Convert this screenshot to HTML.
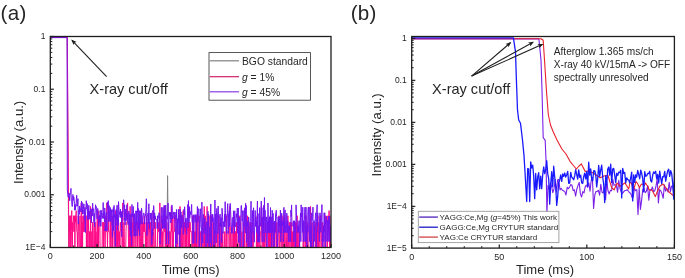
<!DOCTYPE html>
<html><head><meta charset="utf-8"><style>html,body{margin:0;padding:0;background:#fff;width:685px;height:278px;overflow:hidden;position:relative}</style></head>
<body>
<svg width="685" height="278" viewBox="0 0 685 278" style="position:absolute;left:0;top:0;filter:blur(0.35px)">
<defs><clipPath id="cl"><rect x="50.30" y="36.50" width="280.70" height="211.00"/></clipPath>
<clipPath id="cr"><rect x="411.70" y="36.50" width="262.70" height="211.60"/></clipPath></defs>
<polyline points="50.30,37.20 67.20,37.20 68.70,252.50" fill="none" stroke="#808080" stroke-width="1.0" stroke-linejoin="round" clip-path="url(#cl)" opacity="1"/>
<polyline points="167.20,215.00 167.60,175.60 168.00,215.00" fill="none" stroke="#808080" stroke-width="1.0" stroke-linejoin="round" clip-path="url(#cl)" opacity="1"/>
<polyline points="50.30,37.40 67.30,37.40 68.90,247.60 69.60,222.00 69.48,231.62 69.80,215.74 70.12,247.50 70.44,215.74 70.76,247.50 71.08,247.50 71.40,231.62 71.72,210.63 72.04,231.62 72.35,247.50 72.67,222.33 72.99,231.62 73.31,222.33 73.63,215.74 73.95,222.33 74.27,231.62 74.59,215.74 74.91,253.50 75.23,215.74 75.55,222.33 75.87,215.74 76.19,210.63 76.51,222.33 76.82,231.62 77.14,231.62 77.46,247.50 77.78,231.62 78.10,215.74 78.42,215.74 78.74,231.62 79.06,247.50 79.38,222.33 79.70,222.33 80.02,215.74 80.34,247.50 80.66,247.50 80.98,231.62 81.30,202.92 81.61,253.50 81.93,231.62 82.25,222.33 82.57,247.50 82.89,215.74 83.21,231.62 83.53,231.62 83.85,215.74 84.17,231.62 84.49,215.74 84.81,231.62 85.13,215.74 85.45,231.62 85.77,231.62 86.08,215.74 86.40,247.50 86.72,231.62 87.04,247.50 87.36,215.74 87.68,222.33 88.00,247.50 88.32,210.63 88.64,231.62 88.96,231.62 89.28,247.50 89.60,231.62 89.92,253.50 90.24,247.50 90.55,206.45 90.87,247.50 91.19,247.50 91.51,253.50 91.83,231.62 92.15,247.50 92.47,222.33 92.79,231.62 93.11,247.50 93.43,253.50 93.75,247.50 94.07,222.33 94.39,247.50 94.71,253.50 95.02,222.33 95.34,222.33 95.66,253.50 95.98,231.62 96.30,247.50 96.62,253.50 96.94,231.62 97.26,210.63 97.58,253.50 97.90,253.50 98.22,210.63 98.54,247.50 98.86,222.33 99.18,215.74 99.50,222.33 99.81,215.74 100.13,253.50 100.45,247.50 100.77,247.50 101.09,247.50 101.41,247.50 101.73,253.50 102.05,253.50 102.37,222.33 102.69,222.33 103.01,222.33 103.33,247.50 103.65,222.33 103.97,231.62 104.28,222.33 104.60,231.62 104.92,247.50 105.24,247.50 105.56,215.74 105.88,222.33 106.20,231.62 106.52,231.62 106.84,202.92 107.16,231.62 107.48,247.50 107.80,231.62 108.12,231.62 108.44,231.62 108.75,215.74 109.07,231.62 109.39,231.62 109.71,231.62 110.03,253.50 110.35,253.50 110.67,215.74 110.99,222.33 111.31,231.62 111.63,231.62 111.95,247.50 112.27,215.74 112.59,247.50 112.91,247.50 113.22,231.62 113.54,210.63 113.86,231.62 114.18,231.62 114.50,231.62 114.82,247.50 115.14,247.50 115.46,210.63 115.78,222.33 116.10,215.74 116.42,222.33 116.74,247.50 117.06,231.62 117.38,247.50 117.69,222.33 118.01,215.74 118.33,222.33 118.65,247.50 118.97,253.50 119.29,247.50 119.61,231.62 119.93,247.50 120.25,222.33 120.57,222.33 120.89,231.62 121.21,231.62 121.53,231.62 121.85,222.33 122.17,253.50 122.48,215.74 122.80,202.92 123.12,247.50 123.44,253.50 123.76,231.62 124.08,222.33 124.40,247.50 124.72,253.50 125.04,253.50 125.36,253.50 125.68,253.50 126.00,231.62 126.32,222.33 126.64,222.33 126.95,222.33 127.27,222.33 127.59,202.92 127.91,222.33 128.23,222.33 128.55,247.50 128.87,247.50 129.19,222.33 129.51,247.50 129.83,231.62 130.15,206.45 130.47,253.50 130.79,222.33 131.11,231.62 131.42,247.50 131.74,231.62 132.06,222.33 132.38,231.62 132.70,253.50 133.02,215.74 133.34,231.62 133.66,215.74 133.98,247.50 134.30,231.62 134.62,231.62 134.94,222.33 135.26,222.33 135.58,231.62 135.89,247.50 136.21,231.62 136.53,215.74 136.85,222.33 137.17,222.33 137.49,247.50 137.81,222.33 138.13,231.62 138.45,222.33 138.77,231.62 139.09,253.50 139.41,253.50 139.73,231.62 140.05,222.33 140.36,247.50 140.68,247.50 141.00,210.63 141.32,231.62 141.64,253.50 141.96,231.62 142.28,222.33 142.60,253.50 142.92,247.50 143.24,222.33 143.56,231.62 143.88,231.62 144.20,215.74 144.52,231.62 144.84,222.33 145.15,231.62 145.47,247.50 145.79,231.62 146.11,253.50 146.43,215.74 146.75,253.50 147.07,222.33 147.39,231.62 147.71,231.62 148.03,247.50 148.35,231.62 148.67,222.33 148.99,231.62 149.31,222.33 149.62,222.33 149.94,253.50 150.26,222.33 150.58,222.33 150.90,247.50 151.22,253.50 151.54,231.62 151.86,253.50 152.18,231.62 152.50,247.50 152.82,231.62 153.14,210.63 153.46,231.62 153.78,247.50 154.09,253.50 154.41,253.50 154.73,247.50 155.05,222.33 155.37,222.33 155.69,247.50 156.01,247.50 156.33,247.50 156.65,247.50 156.97,247.50 157.29,247.50 157.61,231.62 157.93,222.33 158.25,231.62 158.56,222.33 158.88,231.62 159.20,222.33 159.52,253.50 159.84,202.92 160.16,231.62 160.48,231.62 160.80,253.50 161.12,247.50 161.44,231.62 161.76,215.74 162.08,247.50 162.40,231.62 162.72,247.50 163.03,247.50 163.35,231.62 163.67,231.62 163.99,222.33 164.31,206.45 164.63,231.62 164.95,222.33 165.27,253.50 165.59,222.33 165.91,215.74 166.23,247.50 166.55,231.62 166.87,231.62 167.19,247.50 167.51,231.62 167.82,231.62 168.14,222.33 168.46,247.50 168.78,231.62 169.10,247.50 169.42,231.62 169.74,231.62 170.06,231.62 170.38,231.62 170.70,247.50 171.02,231.62 171.34,206.45 171.66,231.62 171.98,215.74 172.29,247.50 172.61,253.50 172.93,215.74 173.25,247.50 173.57,231.62 173.89,231.62 174.21,231.62 174.53,231.62 174.85,215.74 175.17,222.33 175.49,215.74 175.81,215.74 176.13,222.33 176.45,247.50 176.76,247.50 177.08,222.33 177.40,253.50 177.72,253.50 178.04,253.50 178.36,247.50 178.68,247.50 179.00,247.50 179.32,231.62 179.64,247.50 179.96,206.45 180.28,247.50 180.60,231.62 180.92,231.62 181.23,253.50 181.55,247.50 181.87,215.74 182.19,247.50 182.51,253.50 182.83,215.74 183.15,210.63 183.47,222.33 183.79,247.50 184.11,247.50 184.43,222.33 184.75,231.62 185.07,222.33 185.39,247.50 185.71,222.33 186.02,222.33 186.34,247.50 186.66,231.62 186.98,253.50 187.30,231.62 187.62,222.33 187.94,231.62 188.26,222.33 188.58,253.50 188.90,253.50 189.22,222.33 189.54,253.50 189.86,222.33 190.18,222.33 190.49,231.62 190.81,231.62 191.13,231.62 191.45,231.62 191.77,231.62 192.09,253.50 192.41,215.74 192.73,253.50 193.05,247.50 193.37,215.74 193.69,231.62 194.01,253.50 194.33,253.50 194.65,231.62 194.96,253.50 195.28,231.62 195.60,247.50 195.92,222.33 196.24,215.74 196.56,253.50 196.88,247.50 197.20,222.33 197.52,210.63 197.84,247.50 198.16,253.50 198.48,253.50 198.80,231.62 199.12,215.74 199.43,247.50 199.75,247.50 200.07,247.50 200.39,231.62 200.71,231.62 201.03,247.50 201.35,253.50 201.67,253.50 201.99,247.50 202.31,247.50 202.63,247.50 202.95,222.33 203.27,253.50 203.59,253.50 203.90,247.50 204.22,206.45 204.54,247.50 204.86,253.50 205.18,215.74 205.50,222.33 205.82,247.50 206.14,253.50 206.46,247.50 206.78,253.50 207.10,206.45 207.42,247.50 207.74,247.50 208.06,222.33 208.38,247.50 208.69,247.50 209.01,231.62 209.33,247.50 209.65,253.50 209.97,215.74 210.29,231.62 210.61,253.50 210.93,253.50 211.25,215.74 211.57,253.50 211.89,247.50 212.21,247.50 212.53,253.50 212.85,222.33 213.16,247.50 213.48,253.50 213.80,247.50 214.12,231.62 214.44,247.50 214.76,231.62 215.08,247.50 215.40,231.62 215.72,247.50 216.04,247.50 216.36,247.50 216.68,253.50 217.00,247.50 217.32,231.62 217.63,231.62 217.95,253.50 218.27,231.62 218.59,222.33 218.91,215.74 219.23,247.50 219.55,247.50 219.87,222.33 220.19,231.62 220.51,247.50 220.83,247.50 221.15,222.33 221.47,231.62 221.79,247.50 222.10,231.62 222.42,247.50 222.74,231.62 223.06,247.50 223.38,247.50 223.70,247.50 224.02,247.50 224.34,247.50 224.66,231.62 224.98,231.62 225.30,253.50 225.62,253.50 225.94,253.50 226.26,215.74 226.57,231.62 226.89,253.50 227.21,231.62 227.53,231.62 227.85,231.62 228.17,231.62 228.49,231.62 228.81,231.62 229.13,253.50 229.45,222.33 229.77,206.45 230.09,222.33 230.41,231.62 230.73,253.50 231.05,253.50 231.36,253.50 231.68,247.50 232.00,231.62 232.32,253.50 232.64,247.50 232.96,253.50 233.28,231.62 233.60,247.50 233.92,215.74 234.24,253.50 234.56,231.62 234.88,231.62 235.20,247.50 235.52,231.62 235.83,231.62 236.15,247.50 236.47,222.33 236.79,247.50 237.11,247.50 237.43,253.50 237.75,247.50 238.07,231.62 238.39,231.62 238.71,215.74 239.03,247.50 239.35,247.50 239.67,222.33 239.99,215.74 240.30,231.62 240.62,222.33 240.94,222.33 241.26,253.50 241.58,247.50 241.90,231.62 242.22,253.50 242.54,247.50 242.86,253.50 243.18,247.50 243.50,247.50 243.82,222.33 244.14,253.50 244.46,247.50 244.77,222.33 245.09,247.50 245.41,253.50 245.73,247.50 246.05,253.50 246.37,253.50 246.69,231.62 247.01,222.33 247.33,215.74 247.65,247.50 247.97,253.50 248.29,247.50 248.61,231.62 248.93,222.33 249.24,231.62 249.56,247.50 249.88,231.62 250.20,222.33 250.52,222.33 250.84,231.62 251.16,253.50 251.48,231.62 251.80,231.62 252.12,222.33 252.44,247.50 252.76,247.50 253.08,231.62 253.40,231.62 253.72,247.50 254.03,247.50 254.35,253.50 254.67,247.50 254.99,247.50 255.31,247.50 255.63,253.50 255.95,247.50 256.27,247.50 256.59,231.62 256.91,247.50 257.23,215.74 257.55,253.50 257.87,247.50 258.19,247.50 258.50,253.50 258.82,231.62 259.14,231.62 259.46,253.50 259.78,247.50 260.10,247.50 260.42,231.62 260.74,231.62 261.06,231.62 261.38,206.45 261.70,231.62 262.02,247.50 262.34,247.50 262.66,247.50 262.97,222.33 263.29,231.62 263.61,247.50 263.93,231.62 264.25,253.50 264.57,247.50 264.89,231.62 265.21,222.33 265.53,231.62 265.85,247.50 266.17,247.50 266.49,247.50 266.81,231.62 267.13,222.33 267.44,222.33 267.76,231.62 268.08,222.33 268.40,247.50 268.72,222.33 269.04,253.50 269.36,231.62 269.68,247.50 270.00,253.50 270.32,215.74 270.64,253.50 270.96,222.33 271.28,253.50 271.60,247.50 271.91,247.50 272.23,231.62 272.55,222.33 272.87,247.50 273.19,253.50 273.51,253.50 273.83,222.33 274.15,222.33 274.47,247.50 274.79,231.62 275.11,231.62 275.43,231.62 275.75,222.33 276.07,253.50 276.39,247.50 276.70,222.33 277.02,253.50 277.34,247.50 277.66,247.50 277.98,247.50 278.30,222.33 278.62,231.62 278.94,215.74 279.26,247.50 279.58,253.50 279.90,231.62 280.22,231.62 280.54,231.62 280.86,231.62 281.17,253.50 281.49,231.62 281.81,231.62 282.13,215.74 282.45,247.50 282.77,247.50 283.09,253.50 283.41,231.62 283.73,222.33 284.05,247.50 284.37,231.62 284.69,215.74 285.01,253.50 285.33,247.50 285.64,247.50 285.96,231.62 286.28,231.62 286.60,247.50 286.92,247.50 287.24,247.50 287.56,253.50 287.88,215.74 288.20,253.50 288.52,231.62 288.84,231.62 289.16,231.62 289.48,222.33 289.80,253.50 290.11,253.50 290.43,222.33 290.75,231.62 291.07,231.62 291.39,247.50 291.71,222.33 292.03,247.50 292.35,231.62 292.67,253.50 292.99,253.50 293.31,253.50 293.63,231.62 293.95,253.50 294.27,253.50 294.59,231.62 294.90,222.33 295.22,247.50 295.54,222.33 295.86,253.50 296.18,231.62 296.50,222.33 296.82,247.50 297.14,215.74 297.46,253.50 297.78,231.62 298.10,247.50 298.42,247.50 298.74,247.50 299.06,231.62 299.37,247.50 299.69,247.50 300.01,247.50 300.33,247.50 300.65,247.50 300.97,247.50 301.29,247.50 301.61,247.50 301.93,247.50 302.25,247.50 302.57,247.50 302.89,253.50 303.21,231.62 303.53,247.50 303.84,247.50 304.16,247.50 304.48,253.50 304.80,253.50 305.12,222.33 305.44,247.50 305.76,247.50 306.08,215.74 306.40,247.50 306.72,253.50 307.04,247.50 307.36,247.50 307.68,231.62 308.00,222.33 308.31,253.50 308.63,247.50 308.95,253.50 309.27,247.50 309.59,247.50 309.91,247.50 310.23,253.50 310.55,206.45 310.87,231.62 311.19,231.62 311.51,231.62 311.83,247.50 312.15,222.33 312.47,253.50 312.78,247.50 313.10,253.50 313.42,247.50 313.74,253.50 314.06,253.50 314.38,253.50 314.70,247.50 315.02,253.50 315.34,222.33 315.66,253.50 315.98,253.50 316.30,253.50 316.62,247.50 316.94,231.62 317.26,253.50 317.57,222.33 317.89,215.74 318.21,253.50 318.53,247.50 318.85,222.33 319.17,253.50 319.49,247.50 319.81,253.50 320.13,215.74 320.45,215.74 320.77,222.33 321.09,247.50 321.41,247.50 321.73,247.50 322.04,222.33 322.36,247.50 322.68,222.33 323.00,253.50 323.32,247.50 323.64,247.50 323.96,247.50 324.28,247.50 324.60,253.50 324.92,231.62 325.24,215.74 325.56,247.50 325.88,247.50 326.20,247.50 326.51,253.50 326.83,253.50 327.15,215.74 327.47,247.50 327.79,231.62 328.11,231.62 328.43,215.74 328.75,231.62 329.07,210.63 329.39,231.62 329.71,253.50 330.03,253.50 330.35,231.62 330.67,253.50 330.98,215.74" fill="none" stroke="#ff0a88" stroke-width="1.0" stroke-linejoin="round" clip-path="url(#cl)" opacity="1"/>
<polyline points="50.30,37.60 67.10,37.60 67.30,190.00 68.08,197.14 68.40,197.11 68.72,195.96 69.04,192.87 69.35,195.90 69.67,200.71 69.99,193.75 70.31,193.72 70.63,192.72 70.95,188.35 71.27,199.25 71.59,199.22 71.91,204.95 72.23,206.61 72.55,204.89 72.87,194.50 73.19,200.38 73.51,196.63 73.82,196.60 74.14,198.98 74.46,204.71 74.78,210.21 75.10,204.66 75.42,210.15 75.74,204.60 76.06,206.27 76.38,198.79 76.70,195.23 77.02,200.04 77.34,206.16 77.66,202.85 77.98,198.65 78.30,223.79 78.61,217.17 78.93,209.85 79.25,214.42 79.57,205.96 79.89,209.76 80.21,211.92 80.53,209.71 80.85,207.69 81.17,205.83 81.49,201.05 81.81,211.79 82.13,202.47 82.45,214.15 82.77,209.53 83.08,214.10 83.40,209.48 83.72,203.92 84.04,203.90 84.36,219.75 84.68,209.37 85.00,207.35 85.32,232.50 85.64,211.48 85.96,207.28 86.28,200.66 86.60,203.70 86.92,209.20 87.24,203.65 87.55,219.50 87.87,209.12 88.19,219.45 88.51,211.26 88.83,205.22 89.15,216.32 89.47,211.19 89.79,219.33 90.11,213.55 90.43,208.93 90.75,211.09 91.07,211.07 91.39,222.75 91.71,208.84 92.02,208.81 92.34,216.09 92.66,203.24 92.98,210.93 93.30,210.91 93.62,208.70 93.94,222.56 94.26,213.25 94.58,226.69 94.90,218.96 95.22,210.77 95.54,204.74 95.86,208.54 96.18,206.53 96.50,208.50 96.81,215.77 97.13,218.81 97.45,210.61 97.77,208.41 98.09,215.68 98.41,218.72 98.73,226.41 99.05,218.68 99.37,215.60 99.69,222.17 100.01,210.44 100.33,210.42 100.65,226.28 100.97,226.26 101.28,210.36 101.60,212.75 101.92,218.49 102.24,218.47 102.56,215.39 102.88,212.67 103.20,202.53 103.52,218.38 103.84,212.61 104.16,212.59 104.48,221.86 104.80,207.95 105.12,231.10 105.44,225.97 105.75,231.06 106.07,212.47 106.39,212.45 106.71,218.18 107.03,230.99 107.35,202.27 107.67,207.77 107.99,207.75 108.31,200.63 108.63,221.60 108.95,205.70 109.27,205.68 109.59,218.01 109.91,221.52 110.22,214.91 110.54,207.60 110.86,221.47 111.18,214.86 111.50,209.73 111.82,225.59 112.14,225.57 112.46,237.25 112.78,209.65 113.10,212.05 113.42,207.43 113.74,230.59 114.06,205.40 114.38,217.73 114.69,214.66 115.01,221.23 115.33,246.38 115.65,214.60 115.97,225.35 116.29,209.45 116.61,221.14 116.93,205.24 117.25,205.23 117.57,230.38 117.89,214.48 118.21,225.23 118.53,201.62 118.85,207.13 119.17,214.41 119.48,214.39 119.80,211.68 120.12,217.42 120.44,209.23 120.76,217.38 121.08,214.31 121.40,211.59 121.72,236.74 122.04,211.56 122.36,217.30 122.68,214.23 123.00,206.91 123.32,206.90 123.64,199.78 123.95,204.87 124.27,220.73 124.59,204.84 124.91,224.88 125.23,224.86 125.55,211.38 125.87,208.95 126.19,220.64 126.51,217.09 126.83,204.73 127.15,217.06 127.47,213.98 127.79,220.56 128.11,224.72 128.42,213.94 128.74,211.22 129.06,211.21 129.38,229.77 129.70,213.88 130.02,216.92 130.34,236.32 130.66,224.60 130.98,213.82 131.30,213.80 131.62,245.54 131.94,204.48 132.26,216.81 132.58,213.74 132.89,216.78 133.21,206.42 133.53,213.70 133.85,224.45 134.17,236.14 134.49,213.65 134.81,220.23 135.13,236.09 135.45,236.08 135.77,210.90 136.09,210.88 136.41,224.33 136.73,210.85 137.05,236.01 137.36,213.52 137.68,202.39 138.00,213.50 138.32,208.37 138.64,229.35 138.96,216.51 139.28,210.74 139.60,235.90 139.92,210.71 140.24,213.40 140.56,224.15 140.88,224.14 141.20,224.13 141.52,208.23 141.84,210.63 142.15,219.91 142.47,224.07 142.79,216.35 143.11,216.34 143.43,213.26 143.75,213.25 144.07,213.24 144.39,219.81 144.71,223.98 145.03,216.26 145.35,216.24 145.67,213.17 145.99,208.05 146.31,198.75 146.62,202.01 146.94,235.59 147.26,216.17 147.58,216.15 147.90,213.08 148.22,213.07 148.54,223.82 148.86,203.76 149.18,223.80 149.50,228.90 149.82,223.78 150.14,213.00 150.46,216.04 150.78,219.56 151.09,212.96 151.41,212.95 151.73,244.69 152.05,235.39 152.37,228.79 152.69,235.37 153.01,210.19 153.33,219.46 153.65,205.57 153.97,210.15 154.29,228.72 154.61,212.83 154.93,219.41 155.25,215.86 155.56,219.38 155.88,219.37 156.20,219.36 156.52,219.35 156.84,219.34 157.16,228.61 157.48,215.78 157.80,228.59 158.12,219.29 158.44,215.75 158.76,215.74 159.08,212.66 159.40,219.24 159.72,215.70 160.03,244.39 160.35,228.50 160.67,235.08 160.99,223.37 161.31,207.47 161.63,207.46 161.95,223.33 162.27,219.14 162.59,228.42 162.91,207.42 163.23,228.40 163.55,219.10 163.87,209.80 164.19,205.19 164.51,228.36 164.82,209.77 165.14,228.34 165.46,207.33 165.78,205.14 166.10,215.48 166.42,244.17 166.74,234.87 167.06,215.45 167.38,218.97 167.70,218.96 168.02,203.07 168.34,223.12 168.66,244.10 168.98,223.10 169.29,212.32 169.61,215.37 169.93,212.30 170.25,218.88 170.57,212.28 170.89,223.04 171.21,218.85 171.53,218.84 171.85,204.95 172.17,207.12 172.49,218.81 172.81,215.27 173.13,215.26 173.45,212.19 173.76,212.18 174.08,218.76 174.40,218.75 174.72,212.15 175.04,228.02 175.36,228.01 175.68,259.76 176.00,212.11 176.32,218.70 176.64,209.40 176.96,243.85 177.28,234.55 177.60,218.66 177.92,222.83 178.23,218.64 178.55,209.34 178.87,234.50 179.19,215.08 179.51,227.89 179.83,253.50 180.15,209.30 180.47,234.45 180.79,211.98 181.11,211.97 181.43,222.72 181.75,227.83 182.07,215.00 182.39,222.70 182.71,218.51 183.02,227.79 183.34,234.37 183.66,227.77 183.98,209.19 184.30,214.94 184.62,206.76 184.94,211.86 185.26,227.73 185.58,218.43 185.90,227.71 186.22,227.70 186.54,234.29 186.86,218.40 187.18,222.57 187.49,214.85 187.81,204.49 188.13,227.65 188.45,200.64 188.77,218.35 189.09,222.52 189.41,206.63 189.73,218.32 190.05,214.78 190.37,211.71 190.69,211.71 191.01,214.76 191.33,208.99 191.65,204.39 191.96,218.26 192.28,222.43 192.60,218.25 192.92,243.41 193.24,214.70 193.56,243.39 193.88,243.38 194.20,218.21 194.52,218.20 194.84,214.66 195.16,222.36 195.48,218.18 195.80,214.64 196.12,214.63 196.43,243.32 196.75,227.43 197.07,218.14 197.39,206.43 197.71,214.59 198.03,222.29 198.35,208.82 198.67,208.81 198.99,208.80 199.31,253.50 199.63,222.25 199.95,222.24 200.27,214.53 200.59,208.76 200.90,227.33 201.22,227.33 201.54,253.50 201.86,202.14 202.18,218.02 202.50,222.19 202.82,243.17 203.14,214.46 203.46,214.46 203.78,222.16 204.10,233.85 204.42,222.14 204.74,217.96 205.06,217.95 205.38,233.82 205.69,227.22 206.01,258.98 206.33,222.10 206.65,222.09 206.97,222.08 207.29,243.07 207.61,227.18 207.93,211.30 208.25,227.17 208.57,214.34 208.89,243.03 209.21,253.50 209.53,227.14 209.85,227.13 210.16,243.01 210.48,211.24 210.80,203.94 211.12,221.99 211.44,258.86 211.76,221.98 212.08,214.27 212.40,221.97 212.72,214.25 213.04,217.78 213.36,217.77 213.68,233.64 214.00,258.80 214.32,242.92 214.63,227.03 214.95,200.02 215.27,233.61 215.59,214.19 215.91,221.89 216.23,242.88 216.55,211.11 216.87,208.41 217.19,214.16 217.51,214.15 217.83,233.56 218.15,205.97 218.47,214.14 218.79,217.66 219.10,221.83 219.42,242.82 219.74,253.50 220.06,214.10 220.38,226.92 220.70,221.80 221.02,217.62 221.34,217.61 221.66,242.77 221.98,208.31 222.30,211.00 222.62,217.59 222.94,233.46 223.26,221.75 223.57,221.74 223.89,226.85 224.21,226.84 224.53,214.02 224.85,226.83 225.17,201.66 225.49,221.71 225.81,213.99 226.13,226.81 226.45,233.39 226.77,233.39 227.09,226.79 227.41,208.21 227.73,203.60 228.05,213.95 228.36,233.36 228.68,213.94 229.00,217.47 229.32,210.87 229.64,226.74 229.96,203.56 230.28,203.56 230.60,210.85 230.92,217.43 231.24,221.60 231.56,233.30 231.88,226.71 232.20,233.29 232.52,226.69 232.83,217.40 233.15,226.68 233.47,210.80 233.79,221.56 234.11,221.55 234.43,233.25 234.75,210.78 235.07,221.54 235.39,226.65 235.71,226.64 236.03,221.52 236.35,213.81 236.67,217.33 236.99,217.33 237.30,208.04 237.62,233.20 237.94,233.19 238.26,208.02 238.58,242.47 238.90,242.47 239.22,217.29 239.54,217.29 239.86,226.57 240.18,258.32 240.50,258.32 240.82,217.27 241.14,205.56 241.46,205.55 241.77,213.72 242.09,221.42 242.41,213.71 242.73,210.65 243.05,258.28 243.37,233.11 243.69,226.51 244.01,210.63 244.33,226.50 244.65,207.92 244.97,207.91 245.29,233.08 245.61,203.31 245.93,221.36 246.24,205.48 246.56,242.34 246.88,221.35 247.20,221.34 247.52,226.45 247.84,221.33 248.16,258.20 248.48,217.15 248.80,217.14 249.12,226.43 249.44,226.42 249.76,226.42 250.08,258.17 250.40,233.00 250.72,221.29 251.03,201.23 251.35,232.98 251.67,258.15 251.99,232.97 252.31,221.27 252.63,210.50 252.95,232.96 253.27,226.37 253.59,207.78 253.91,232.95 254.23,242.23 254.55,232.94 254.87,221.23 255.19,210.46 255.50,226.33 255.82,217.04 256.14,226.33 256.46,221.21 256.78,232.91 257.10,217.02 257.42,201.14 257.74,242.18 258.06,226.30 258.38,226.29 258.70,242.17 259.02,213.47 259.34,242.16 259.66,207.70 259.97,216.98 260.29,226.27 260.61,226.26 260.93,216.97 261.25,201.09 261.57,213.43 261.89,226.25 262.21,242.12 262.53,216.95 262.85,226.23 263.17,207.65 263.49,232.82 263.81,205.23 264.13,242.10 264.44,197.51 264.76,221.10 265.08,210.33 265.40,226.20 265.72,232.79 266.04,216.90 266.36,221.08 266.68,216.90 267.00,257.94 267.32,221.06 267.64,232.76 267.96,202.99 268.28,216.88 268.60,232.75 268.92,221.04 269.23,216.86 269.55,232.74 269.87,216.86 270.19,232.73 270.51,207.56 270.83,232.72 271.15,216.84 271.47,221.01 271.79,253.50 272.11,210.24 272.43,213.29 272.75,232.70 273.07,213.29 273.39,232.69 273.70,241.98 274.02,257.85 274.34,241.97 274.66,220.97 274.98,232.67 275.30,232.67 275.62,213.26 275.94,213.25 276.26,210.19 276.58,216.78 276.90,220.95 277.22,257.82 277.54,241.93 277.86,232.64 278.17,216.76 278.49,220.93 278.81,232.63 279.13,216.75 279.45,226.03 279.77,216.74 280.09,232.61 280.41,210.14 280.73,241.90 281.05,226.01 281.37,232.60 281.69,213.19 282.01,220.89 282.33,226.00 282.64,220.88 282.96,225.99 283.28,241.87 283.60,216.70 283.92,207.40 284.24,225.98 284.56,232.57 284.88,210.09 285.20,210.09 285.52,232.56 285.84,225.96 286.16,232.55 286.48,225.95 286.80,213.13 287.11,220.84 287.43,232.54 287.75,220.83 288.07,225.94 288.39,241.81 288.71,225.93 289.03,232.52 289.35,225.92 289.67,225.92 289.99,241.80 290.31,232.51 290.63,241.79 290.95,210.03 291.27,216.62 291.59,204.91 291.90,220.79 292.22,225.90 292.54,225.89 292.86,225.89 293.18,225.89 293.50,220.77 293.82,241.76 294.14,232.47 294.46,220.76 294.78,232.46 295.10,225.87 295.42,257.62 295.74,241.74 296.06,204.87 296.37,213.03 296.69,220.74 297.01,220.74 297.33,232.44 297.65,232.43 297.97,225.84 298.29,232.43 298.61,225.83 298.93,220.72 299.25,220.71 299.57,257.58 299.89,225.82 300.21,220.71 300.53,212.99 300.84,241.69 301.16,204.82 301.48,216.52 301.80,212.98 302.12,225.80 302.44,232.39 302.76,207.22 303.08,232.38 303.40,241.67 303.72,220.67 304.04,241.66 304.36,220.67 304.68,212.96 305.00,207.20 305.31,232.36 305.63,241.65 305.95,207.19 306.27,220.65 306.59,241.64 306.91,257.52 307.23,225.75 307.55,232.34 307.87,212.93 308.19,207.17 308.51,207.16 308.83,232.33 309.15,232.33 309.47,241.61 309.78,207.15 310.10,216.44 310.42,253.50 310.74,225.72 311.06,232.31 311.38,257.48 311.70,212.89 312.02,220.60 312.34,216.42 312.66,216.42 312.98,207.13 313.30,257.46 313.62,232.29 313.94,220.58 314.26,241.57 314.57,225.69 314.89,220.58 315.21,220.57 315.53,212.86 315.85,212.86 316.17,253.50 316.49,232.27 316.81,209.79 317.13,204.68 317.45,225.67 317.77,212.84 318.09,232.25 318.41,232.25 318.73,232.25 319.04,232.25 319.36,241.53 319.68,216.36 320.00,212.83 320.32,216.36 320.64,232.23 320.96,232.23 321.28,220.53 321.60,220.52 321.92,204.64 322.24,241.51 322.56,232.22 322.88,253.50 323.20,232.21 323.51,225.62 323.83,241.50 324.15,212.79 324.47,232.20 324.79,212.79 325.11,241.49 325.43,257.36 325.75,220.49 326.07,220.49 326.39,216.31 326.71,225.60 327.03,241.47 327.35,220.48 327.67,220.48 327.98,241.47 328.30,241.46 328.62,216.29 328.94,225.58 329.26,220.47 329.58,216.29 329.90,241.45 330.22,225.57 330.54,232.16 330.86,241.45" fill="none" stroke="#7414f0" stroke-width="1.0" stroke-linejoin="round" clip-path="url(#cl)" opacity="1"/>
<polyline points="411.70,38.90 538.90,38.90 541.00,60.00 542.00,90.00 543.20,137.60 545.20,140.40 546.00,160.00 546.50,190.00 546.90,214.00 548.00,185.42 549.20,189.47 550.40,182.48 551.60,186.26 552.80,192.69 554.00,188.93 555.20,179.52 556.40,192.28 557.60,179.69 558.80,179.56 560.00,189.94 561.20,188.30 562.40,190.19 563.60,190.73 564.80,191.64 566.00,194.94 567.20,187.32 568.40,188.60 569.60,186.97 570.80,184.50 572.00,185.31 573.20,190.64 574.40,189.73 575.60,196.07 576.80,189.07 578.00,185.56 579.20,182.38 580.40,193.89 581.60,196.99 582.80,191.64 584.00,192.95 585.20,186.85 586.40,185.10 587.60,187.32 588.80,182.72 590.00,191.23 591.20,180.56 592.40,177.50 593.60,208.54 594.80,195.02 596.00,191.45 597.20,191.34 598.40,190.27 599.60,195.19 600.80,184.23 602.00,192.23 603.20,192.91 604.40,187.23 605.60,199.68 606.80,181.93 608.00,190.72 609.20,193.94 610.40,190.30 611.60,190.79 612.80,179.04 614.00,185.35 615.20,184.82 616.40,185.32 617.60,192.29 618.80,180.38 620.00,188.51 621.20,191.79 622.40,193.53 623.60,191.82 624.80,190.52 626.00,190.46 627.20,189.68 628.40,191.29 629.60,192.70 630.80,193.50 632.00,197.41 633.20,197.23 634.40,188.34 635.60,190.67 636.80,189.59 638.00,214.41 639.20,187.69 640.40,209.34 641.60,200.35 642.80,189.12 644.00,188.45 645.20,192.72 646.40,191.28 647.60,186.08 648.80,200.22 650.00,189.55 651.20,190.25 652.40,186.90 653.60,191.65 654.80,190.70 656.00,186.06 657.20,178.77 658.40,202.90 659.60,189.55 660.80,190.97 662.00,193.76 663.20,198.25 664.40,184.87 665.60,191.14 666.80,188.49 668.00,192.17 669.20,182.33 670.40,191.59 671.60,186.13 672.80,186.47 674.00,193.58 675.20,191.75" fill="none" stroke="#7a1fe8" stroke-width="1.1" stroke-linejoin="round" clip-path="url(#cr)" opacity="1"/>
<polyline points="411.70,38.70 541.00,38.70 543.20,40.30 544.50,60.00 546.40,90.00 548.30,114.50 550.50,125.00 553.20,131.80 557.00,140.00 561.90,149.00 566.00,154.00 570.00,161.30 573.00,165.00 576.40,169.00 579.00,166.00 581.40,163.90 585.20,171.40 589.00,171.00 592.80,172.70 596.00,175.00 600.30,177.70 604.00,176.00 607.90,175.20 611.70,187.80 614.20,189.80 617.00,183.00 620.00,186.50 625.00,182.80 627.50,187.34 628.70,188.95 629.90,182.73 631.10,182.43 632.30,186.13 633.50,190.20 634.70,186.28 635.90,181.64 637.10,182.80 638.30,184.93 639.50,187.89 640.70,185.06 641.90,184.02 643.10,184.42 644.30,185.59 645.50,182.90 646.70,185.10 647.90,185.88 649.10,189.91 652.00,190.00 655.30,196.60 658.00,190.00 660.00,186.00 663.00,184.00 666.00,188.00 669.00,192.00 673.00,195.40 676.00,194.00" fill="none" stroke="#e8202a" stroke-width="1.1" stroke-linejoin="round" clip-path="url(#cr)" opacity="1"/>
<polyline points="411.70,37.90 513.40,37.90 515.50,51.60 516.40,80.00 517.50,110.00 518.70,120.00 520.50,123.30 522.50,140.00 524.00,155.60 525.00,172.00 526.70,201.50 527.70,168.57 528.70,168.77 529.70,201.59 530.70,161.79 531.70,167.97 532.70,165.09 533.70,176.17 534.70,198.60 535.70,173.42 536.70,189.79 537.70,177.01 538.70,172.71 539.70,188.76 540.70,176.14 541.70,188.71 542.70,174.59 543.70,166.80 544.70,173.69 545.70,170.02 546.70,160.71 547.70,173.56 548.70,178.91 549.70,204.14 550.70,184.12 551.70,171.72 552.70,186.82 553.70,166.23 554.70,177.16 555.70,186.38 556.70,205.45 557.70,196.56 558.70,182.17 559.70,180.00 560.70,174.84 561.70,181.41 562.70,173.94 563.70,176.48 564.70,173.03 565.70,177.09 566.70,174.67 567.70,171.33 568.70,183.29 569.70,183.03 570.70,172.37 571.70,177.12 572.70,178.28 573.70,179.74 574.70,175.92 575.70,169.71 576.70,174.66 577.70,179.20 578.70,169.83 579.70,177.40 580.70,175.18 581.70,182.97 582.70,183.47 583.70,176.71 584.70,173.09 585.70,178.95 586.70,171.64 587.70,186.31 588.70,162.22 589.70,175.08 590.70,168.86 591.70,179.71 592.70,180.88 593.70,170.83 594.70,170.70 595.70,174.46 596.70,186.89 597.70,178.44 598.70,165.40 599.70,176.36 600.70,170.02 601.70,165.25 602.70,176.97 603.70,184.60 604.70,202.56 605.70,175.96 606.70,185.40 607.70,169.23 608.70,167.00 609.70,175.10 610.70,164.21 611.70,182.58 612.70,168.98 613.70,168.32 614.70,175.12 615.70,182.63 616.70,173.25 617.70,175.52 618.70,172.16 619.70,172.67 620.70,170.32 621.70,197.92 622.70,168.38 623.70,173.40 624.70,172.41 625.70,182.87 626.70,177.85 627.70,179.68 628.70,180.10 629.70,182.87 630.70,177.57 631.70,172.08 632.70,200.86 633.70,174.85 634.70,182.37 635.70,174.80 636.70,177.22 637.70,170.49 638.70,174.39 639.70,178.74 640.70,170.03 641.70,173.62 642.70,178.55 643.70,191.94 644.70,171.61 645.70,176.22 646.70,175.83 647.70,173.40 648.70,173.70 649.70,171.24 650.70,180.71 651.70,182.07 652.70,174.94 653.70,171.97 654.70,173.23 655.70,171.24 656.70,178.80 657.70,174.37 658.70,182.99 659.70,171.08 660.70,177.82 661.70,183.74 662.70,176.64 663.70,176.94 664.70,171.36 665.70,181.24 666.70,175.63 667.70,170.74 668.70,169.23 669.70,176.35 670.70,170.68 671.70,173.76 672.70,183.41 673.70,199.03 674.70,167.58 675.70,187.41" fill="none" stroke="#1a1aff" stroke-width="1.3" stroke-linejoin="round" clip-path="url(#cr)" opacity="1"/>
<rect x="50.3" y="36.5" width="280.70" height="211.00" fill="none" stroke="#1e1e1e" stroke-width="1.3"/>
<rect x="411.7" y="36.5" width="262.70" height="211.60" fill="none" stroke="#1e1e1e" stroke-width="1.3"/>
<line x1="50.3" y1="36.50" x2="53.90" y2="36.50" stroke="#1e1e1e" stroke-width="1.2"/><line x1="50.3" y1="73.37" x2="52.30" y2="73.37" stroke="#1e1e1e" stroke-width="1"/><line x1="50.3" y1="64.08" x2="52.30" y2="64.08" stroke="#1e1e1e" stroke-width="1"/><line x1="50.3" y1="57.49" x2="52.30" y2="57.49" stroke="#1e1e1e" stroke-width="1"/><line x1="50.3" y1="52.38" x2="52.30" y2="52.38" stroke="#1e1e1e" stroke-width="1"/><line x1="50.3" y1="48.20" x2="52.30" y2="48.20" stroke="#1e1e1e" stroke-width="1"/><line x1="50.3" y1="44.67" x2="52.30" y2="44.67" stroke="#1e1e1e" stroke-width="1"/><line x1="50.3" y1="41.61" x2="52.30" y2="41.61" stroke="#1e1e1e" stroke-width="1"/><line x1="50.3" y1="38.91" x2="52.30" y2="38.91" stroke="#1e1e1e" stroke-width="1"/><line x1="50.3" y1="89.25" x2="53.90" y2="89.25" stroke="#1e1e1e" stroke-width="1.2"/><line x1="50.3" y1="126.12" x2="52.30" y2="126.12" stroke="#1e1e1e" stroke-width="1"/><line x1="50.3" y1="116.83" x2="52.30" y2="116.83" stroke="#1e1e1e" stroke-width="1"/><line x1="50.3" y1="110.24" x2="52.30" y2="110.24" stroke="#1e1e1e" stroke-width="1"/><line x1="50.3" y1="105.13" x2="52.30" y2="105.13" stroke="#1e1e1e" stroke-width="1"/><line x1="50.3" y1="100.95" x2="52.30" y2="100.95" stroke="#1e1e1e" stroke-width="1"/><line x1="50.3" y1="97.42" x2="52.30" y2="97.42" stroke="#1e1e1e" stroke-width="1"/><line x1="50.3" y1="94.36" x2="52.30" y2="94.36" stroke="#1e1e1e" stroke-width="1"/><line x1="50.3" y1="91.66" x2="52.30" y2="91.66" stroke="#1e1e1e" stroke-width="1"/><line x1="50.3" y1="142.00" x2="53.90" y2="142.00" stroke="#1e1e1e" stroke-width="1.2"/><line x1="50.3" y1="178.87" x2="52.30" y2="178.87" stroke="#1e1e1e" stroke-width="1"/><line x1="50.3" y1="169.58" x2="52.30" y2="169.58" stroke="#1e1e1e" stroke-width="1"/><line x1="50.3" y1="162.99" x2="52.30" y2="162.99" stroke="#1e1e1e" stroke-width="1"/><line x1="50.3" y1="157.88" x2="52.30" y2="157.88" stroke="#1e1e1e" stroke-width="1"/><line x1="50.3" y1="153.70" x2="52.30" y2="153.70" stroke="#1e1e1e" stroke-width="1"/><line x1="50.3" y1="150.17" x2="52.30" y2="150.17" stroke="#1e1e1e" stroke-width="1"/><line x1="50.3" y1="147.11" x2="52.30" y2="147.11" stroke="#1e1e1e" stroke-width="1"/><line x1="50.3" y1="144.41" x2="52.30" y2="144.41" stroke="#1e1e1e" stroke-width="1"/><line x1="50.3" y1="194.75" x2="53.90" y2="194.75" stroke="#1e1e1e" stroke-width="1.2"/><line x1="50.3" y1="231.62" x2="52.30" y2="231.62" stroke="#1e1e1e" stroke-width="1"/><line x1="50.3" y1="222.33" x2="52.30" y2="222.33" stroke="#1e1e1e" stroke-width="1"/><line x1="50.3" y1="215.74" x2="52.30" y2="215.74" stroke="#1e1e1e" stroke-width="1"/><line x1="50.3" y1="210.63" x2="52.30" y2="210.63" stroke="#1e1e1e" stroke-width="1"/><line x1="50.3" y1="206.45" x2="52.30" y2="206.45" stroke="#1e1e1e" stroke-width="1"/><line x1="50.3" y1="202.92" x2="52.30" y2="202.92" stroke="#1e1e1e" stroke-width="1"/><line x1="50.3" y1="199.86" x2="52.30" y2="199.86" stroke="#1e1e1e" stroke-width="1"/><line x1="50.3" y1="197.16" x2="52.30" y2="197.16" stroke="#1e1e1e" stroke-width="1"/>
<line x1="411.7" y1="38.35" x2="415.30" y2="38.35" stroke="#1e1e1e" stroke-width="1.2"/><line x1="411.7" y1="67.71" x2="413.70" y2="67.71" stroke="#1e1e1e" stroke-width="1"/><line x1="411.7" y1="60.31" x2="413.70" y2="60.31" stroke="#1e1e1e" stroke-width="1"/><line x1="411.7" y1="55.06" x2="413.70" y2="55.06" stroke="#1e1e1e" stroke-width="1"/><line x1="411.7" y1="50.99" x2="413.70" y2="50.99" stroke="#1e1e1e" stroke-width="1"/><line x1="411.7" y1="47.67" x2="413.70" y2="47.67" stroke="#1e1e1e" stroke-width="1"/><line x1="411.7" y1="44.86" x2="413.70" y2="44.86" stroke="#1e1e1e" stroke-width="1"/><line x1="411.7" y1="42.42" x2="413.70" y2="42.42" stroke="#1e1e1e" stroke-width="1"/><line x1="411.7" y1="40.27" x2="413.70" y2="40.27" stroke="#1e1e1e" stroke-width="1"/><line x1="411.7" y1="80.35" x2="415.30" y2="80.35" stroke="#1e1e1e" stroke-width="1.2"/><line x1="411.7" y1="109.71" x2="413.70" y2="109.71" stroke="#1e1e1e" stroke-width="1"/><line x1="411.7" y1="102.31" x2="413.70" y2="102.31" stroke="#1e1e1e" stroke-width="1"/><line x1="411.7" y1="97.06" x2="413.70" y2="97.06" stroke="#1e1e1e" stroke-width="1"/><line x1="411.7" y1="92.99" x2="413.70" y2="92.99" stroke="#1e1e1e" stroke-width="1"/><line x1="411.7" y1="89.67" x2="413.70" y2="89.67" stroke="#1e1e1e" stroke-width="1"/><line x1="411.7" y1="86.86" x2="413.70" y2="86.86" stroke="#1e1e1e" stroke-width="1"/><line x1="411.7" y1="84.42" x2="413.70" y2="84.42" stroke="#1e1e1e" stroke-width="1"/><line x1="411.7" y1="82.27" x2="413.70" y2="82.27" stroke="#1e1e1e" stroke-width="1"/><line x1="411.7" y1="122.35" x2="415.30" y2="122.35" stroke="#1e1e1e" stroke-width="1.2"/><line x1="411.7" y1="151.71" x2="413.70" y2="151.71" stroke="#1e1e1e" stroke-width="1"/><line x1="411.7" y1="144.31" x2="413.70" y2="144.31" stroke="#1e1e1e" stroke-width="1"/><line x1="411.7" y1="139.06" x2="413.70" y2="139.06" stroke="#1e1e1e" stroke-width="1"/><line x1="411.7" y1="134.99" x2="413.70" y2="134.99" stroke="#1e1e1e" stroke-width="1"/><line x1="411.7" y1="131.67" x2="413.70" y2="131.67" stroke="#1e1e1e" stroke-width="1"/><line x1="411.7" y1="128.86" x2="413.70" y2="128.86" stroke="#1e1e1e" stroke-width="1"/><line x1="411.7" y1="126.42" x2="413.70" y2="126.42" stroke="#1e1e1e" stroke-width="1"/><line x1="411.7" y1="124.27" x2="413.70" y2="124.27" stroke="#1e1e1e" stroke-width="1"/><line x1="411.7" y1="164.35" x2="415.30" y2="164.35" stroke="#1e1e1e" stroke-width="1.2"/><line x1="411.7" y1="193.71" x2="413.70" y2="193.71" stroke="#1e1e1e" stroke-width="1"/><line x1="411.7" y1="186.31" x2="413.70" y2="186.31" stroke="#1e1e1e" stroke-width="1"/><line x1="411.7" y1="181.06" x2="413.70" y2="181.06" stroke="#1e1e1e" stroke-width="1"/><line x1="411.7" y1="176.99" x2="413.70" y2="176.99" stroke="#1e1e1e" stroke-width="1"/><line x1="411.7" y1="173.67" x2="413.70" y2="173.67" stroke="#1e1e1e" stroke-width="1"/><line x1="411.7" y1="170.86" x2="413.70" y2="170.86" stroke="#1e1e1e" stroke-width="1"/><line x1="411.7" y1="168.42" x2="413.70" y2="168.42" stroke="#1e1e1e" stroke-width="1"/><line x1="411.7" y1="166.27" x2="413.70" y2="166.27" stroke="#1e1e1e" stroke-width="1"/><line x1="411.7" y1="206.35" x2="415.30" y2="206.35" stroke="#1e1e1e" stroke-width="1.2"/><line x1="411.7" y1="235.71" x2="413.70" y2="235.71" stroke="#1e1e1e" stroke-width="1"/><line x1="411.7" y1="228.31" x2="413.70" y2="228.31" stroke="#1e1e1e" stroke-width="1"/><line x1="411.7" y1="223.06" x2="413.70" y2="223.06" stroke="#1e1e1e" stroke-width="1"/><line x1="411.7" y1="218.99" x2="413.70" y2="218.99" stroke="#1e1e1e" stroke-width="1"/><line x1="411.7" y1="215.67" x2="413.70" y2="215.67" stroke="#1e1e1e" stroke-width="1"/><line x1="411.7" y1="212.86" x2="413.70" y2="212.86" stroke="#1e1e1e" stroke-width="1"/><line x1="411.7" y1="210.42" x2="413.70" y2="210.42" stroke="#1e1e1e" stroke-width="1"/><line x1="411.7" y1="208.27" x2="413.70" y2="208.27" stroke="#1e1e1e" stroke-width="1"/>
<line x1="50.30" y1="247.5" x2="50.30" y2="243.90" stroke="#1e1e1e" stroke-width="1.2"/><line x1="73.69" y1="247.5" x2="73.69" y2="245.50" stroke="#1e1e1e" stroke-width="1"/><line x1="97.08" y1="247.5" x2="97.08" y2="243.90" stroke="#1e1e1e" stroke-width="1.2"/><line x1="120.47" y1="247.5" x2="120.47" y2="245.50" stroke="#1e1e1e" stroke-width="1"/><line x1="143.87" y1="247.5" x2="143.87" y2="243.90" stroke="#1e1e1e" stroke-width="1.2"/><line x1="167.26" y1="247.5" x2="167.26" y2="245.50" stroke="#1e1e1e" stroke-width="1"/><line x1="190.65" y1="247.5" x2="190.65" y2="243.90" stroke="#1e1e1e" stroke-width="1.2"/><line x1="214.04" y1="247.5" x2="214.04" y2="245.50" stroke="#1e1e1e" stroke-width="1"/><line x1="237.43" y1="247.5" x2="237.43" y2="243.90" stroke="#1e1e1e" stroke-width="1.2"/><line x1="260.82" y1="247.5" x2="260.82" y2="245.50" stroke="#1e1e1e" stroke-width="1"/><line x1="284.22" y1="247.5" x2="284.22" y2="243.90" stroke="#1e1e1e" stroke-width="1.2"/><line x1="307.61" y1="247.5" x2="307.61" y2="245.50" stroke="#1e1e1e" stroke-width="1"/><line x1="331.00" y1="247.5" x2="331.00" y2="243.90" stroke="#1e1e1e" stroke-width="1.2"/>
<line x1="411.70" y1="248.1" x2="411.70" y2="244.50" stroke="#1e1e1e" stroke-width="1.2"/><line x1="429.21" y1="248.1" x2="429.21" y2="246.10" stroke="#1e1e1e" stroke-width="1"/><line x1="446.73" y1="248.1" x2="446.73" y2="246.10" stroke="#1e1e1e" stroke-width="1"/><line x1="464.24" y1="248.1" x2="464.24" y2="246.10" stroke="#1e1e1e" stroke-width="1"/><line x1="481.75" y1="248.1" x2="481.75" y2="246.10" stroke="#1e1e1e" stroke-width="1"/><line x1="499.27" y1="248.1" x2="499.27" y2="244.50" stroke="#1e1e1e" stroke-width="1.2"/><line x1="516.78" y1="248.1" x2="516.78" y2="246.10" stroke="#1e1e1e" stroke-width="1"/><line x1="534.29" y1="248.1" x2="534.29" y2="246.10" stroke="#1e1e1e" stroke-width="1"/><line x1="551.81" y1="248.1" x2="551.81" y2="246.10" stroke="#1e1e1e" stroke-width="1"/><line x1="569.32" y1="248.1" x2="569.32" y2="246.10" stroke="#1e1e1e" stroke-width="1"/><line x1="586.83" y1="248.1" x2="586.83" y2="244.50" stroke="#1e1e1e" stroke-width="1.2"/><line x1="604.35" y1="248.1" x2="604.35" y2="246.10" stroke="#1e1e1e" stroke-width="1"/><line x1="621.86" y1="248.1" x2="621.86" y2="246.10" stroke="#1e1e1e" stroke-width="1"/><line x1="639.37" y1="248.1" x2="639.37" y2="246.10" stroke="#1e1e1e" stroke-width="1"/><line x1="656.89" y1="248.1" x2="656.89" y2="246.10" stroke="#1e1e1e" stroke-width="1"/><line x1="674.40" y1="248.1" x2="674.40" y2="244.50" stroke="#1e1e1e" stroke-width="1.2"/>
<text x="0.00" y="0.00" font-family="'Liberation Sans', sans-serif" font-size="8.5" fill="#262626" text-anchor="end" transform="translate(45.40,39.00) scale(1.0,1.1)">1</text>
<text x="0.00" y="0.00" font-family="'Liberation Sans', sans-serif" font-size="8.5" fill="#262626" text-anchor="end" transform="translate(45.40,91.75) scale(1.0,1.1)">0.1</text>
<text x="0.00" y="0.00" font-family="'Liberation Sans', sans-serif" font-size="8.5" fill="#262626" text-anchor="end" transform="translate(45.40,144.50) scale(1.0,1.1)">0.01</text>
<text x="0.00" y="0.00" font-family="'Liberation Sans', sans-serif" font-size="8.5" fill="#262626" text-anchor="end" transform="translate(45.40,197.25) scale(1.0,1.1)">0.001</text>
<text x="0.00" y="0.00" font-family="'Liberation Sans', sans-serif" font-size="8.5" fill="#262626" text-anchor="end" transform="translate(45.40,250.00) scale(1.0,1.1)">1E−4</text>
<text x="0.00" y="0.00" font-family="'Liberation Sans', sans-serif" font-size="8.5" fill="#262626" text-anchor="end" transform="translate(406.70,40.85) scale(1.0,1.1)">1</text>
<text x="0.00" y="0.00" font-family="'Liberation Sans', sans-serif" font-size="8.5" fill="#262626" text-anchor="end" transform="translate(406.70,82.85) scale(1.0,1.1)">0.1</text>
<text x="0.00" y="0.00" font-family="'Liberation Sans', sans-serif" font-size="8.5" fill="#262626" text-anchor="end" transform="translate(406.70,124.85) scale(1.0,1.1)">0.01</text>
<text x="0.00" y="0.00" font-family="'Liberation Sans', sans-serif" font-size="8.5" fill="#262626" text-anchor="end" transform="translate(406.70,166.85) scale(1.0,1.1)">0.001</text>
<text x="0.00" y="0.00" font-family="'Liberation Sans', sans-serif" font-size="8.5" fill="#262626" text-anchor="end" transform="translate(406.70,208.85) scale(1.0,1.1)">1E−4</text>
<text x="0.00" y="0.00" font-family="'Liberation Sans', sans-serif" font-size="8.5" fill="#262626" text-anchor="end" transform="translate(406.70,250.85) scale(1.0,1.1)">1E−5</text>
<text x="0.00" y="0.00" font-family="'Liberation Sans', sans-serif" font-size="9" fill="#262626" text-anchor="middle" transform="translate(50.30,258.9) scale(1,1.08)">0</text>
<text x="0.00" y="0.00" font-family="'Liberation Sans', sans-serif" font-size="9" fill="#262626" text-anchor="middle" transform="translate(97.08,258.9) scale(1,1.08)">200</text>
<text x="0.00" y="0.00" font-family="'Liberation Sans', sans-serif" font-size="9" fill="#262626" text-anchor="middle" transform="translate(143.87,258.9) scale(1,1.08)">400</text>
<text x="0.00" y="0.00" font-family="'Liberation Sans', sans-serif" font-size="9" fill="#262626" text-anchor="middle" transform="translate(190.65,258.9) scale(1,1.08)">600</text>
<text x="0.00" y="0.00" font-family="'Liberation Sans', sans-serif" font-size="9" fill="#262626" text-anchor="middle" transform="translate(237.43,258.9) scale(1,1.08)">800</text>
<text x="0.00" y="0.00" font-family="'Liberation Sans', sans-serif" font-size="9" fill="#262626" text-anchor="middle" transform="translate(284.22,258.9) scale(1,1.08)">1000</text>
<text x="0.00" y="0.00" font-family="'Liberation Sans', sans-serif" font-size="9" fill="#262626" text-anchor="middle" transform="translate(331.00,258.9) scale(1,1.08)">1200</text>
<text x="0.00" y="0.00" font-family="'Liberation Sans', sans-serif" font-size="9" fill="#262626" text-anchor="middle" transform="translate(411.70,259.7) scale(1,1.08)">0</text>
<text x="0.00" y="0.00" font-family="'Liberation Sans', sans-serif" font-size="9" fill="#262626" text-anchor="middle" transform="translate(499.27,259.7) scale(1,1.08)">50</text>
<text x="0.00" y="0.00" font-family="'Liberation Sans', sans-serif" font-size="9" fill="#262626" text-anchor="middle" transform="translate(586.83,259.7) scale(1,1.08)">100</text>
<text x="0.00" y="0.00" font-family="'Liberation Sans', sans-serif" font-size="9" fill="#262626" text-anchor="middle" transform="translate(674.40,259.7) scale(1,1.08)">150</text>
<text x="190.65" y="273.60" font-family="'Liberation Sans', sans-serif" font-size="13" fill="#262626" text-anchor="middle" >Time (ms)</text>
<text x="545.00" y="273.80" font-family="'Liberation Sans', sans-serif" font-size="13" fill="#262626" text-anchor="middle" >Time (ms)</text>
<text x="0.00" y="0.00" font-family="'Liberation Sans', sans-serif" font-size="13.15" fill="#262626" text-anchor="middle" transform="translate(23.3,142.4) rotate(-90)">Intensity (a.u.)</text>
<text x="0.00" y="0.00" font-family="'Liberation Sans', sans-serif" font-size="13.15" fill="#262626" text-anchor="middle" transform="translate(381.3,134.9) rotate(-90)">Intensity (a.u.)</text>
<text x="0.40" y="20.40" font-family="'Liberation Sans', sans-serif" font-size="20.6" fill="#262626" text-anchor="start" letter-spacing="0.4">(a)</text>
<text x="350.70" y="20.40" font-family="'Liberation Sans', sans-serif" font-size="20.6" fill="#262626" text-anchor="start" letter-spacing="0.2">(b)</text>
<rect x="209" y="52.6" width="101.5" height="47.6" fill="#fff" stroke="#3a3a3a" stroke-width="0.85"/>
<line x1="209.7" y1="60.8" x2="239" y2="60.8" stroke="#808080" stroke-width="1.2"/>
<line x1="209.7" y1="76.7" x2="239" y2="76.7" stroke="#d0206a" stroke-width="1.2"/>
<line x1="209.7" y1="91.8" x2="239" y2="91.8" stroke="#8a3ae8" stroke-width="1.2"/>
<text x="242.00" y="65.10" font-family="'Liberation Sans', sans-serif" font-size="10.3" fill="#262626" text-anchor="start" >BGO standard</text>
<text x="242" y="81.0" font-family="'Liberation Sans', sans-serif" font-size="10.3" fill="#262626"><tspan font-style="italic">g</tspan> = 1%</text>
<text x="242" y="96.1" font-family="'Liberation Sans', sans-serif" font-size="10.3" fill="#262626"><tspan font-style="italic">g</tspan> = 45%</text>
<text x="0.00" y="0.00" font-family="'Liberation Sans', sans-serif" font-size="14.4" fill="#262626" text-anchor="start" transform="translate(89.6,94.1) scale(1.01,1.05)">X-ray cut/off</text>
<line x1="106.60" y1="76.60" x2="71.99" y2="40.32" stroke="#1e1e1e" stroke-width="1.1"/><polygon points="71.30,39.60 76.69,42.06 74.27,42.71 73.50,45.10" fill="#1e1e1e"/>
<text x="0.00" y="0.00" font-family="'Liberation Sans', sans-serif" font-size="14.4" fill="#262626" text-anchor="start" transform="translate(432.1,94.2) scale(1.01,1.05)">X-ray cut/off</text>
<line x1="471.60" y1="76.10" x2="510.44" y2="42.75" stroke="#1e1e1e" stroke-width="1.1"/><polygon points="511.20,42.10 508.46,47.35 507.94,44.90 505.59,44.01" fill="#1e1e1e"/>
<line x1="471.60" y1="76.10" x2="533.02" y2="42.28" stroke="#1e1e1e" stroke-width="1.1"/><polygon points="533.90,41.80 530.14,46.38 530.13,43.87 528.02,42.53" fill="#1e1e1e"/>
<line x1="471.60" y1="76.10" x2="542.49" y2="44.31" stroke="#1e1e1e" stroke-width="1.1"/><polygon points="543.40,43.90 539.28,48.16 539.48,45.66 537.48,44.14" fill="#1e1e1e"/>
<text x="553.80" y="55.20" font-family="'Liberation Sans', sans-serif" font-size="10.1" fill="#262626" text-anchor="start" >Afterglow 1.365 ms/ch</text>
<text x="553.80" y="68.00" font-family="'Liberation Sans', sans-serif" font-size="10.1" fill="#262626" text-anchor="start" >X-ray 40 kV/15mA -&gt; OFF</text>
<text x="553.80" y="80.70" font-family="'Liberation Sans', sans-serif" font-size="10.1" fill="#262626" text-anchor="start" >spectrally unresolved</text>
<rect x="418.3" y="211.3" width="140.6" height="31.3" fill="#fff" stroke="#9a9a9a" stroke-width="0.9"/>
<line x1="419.2" y1="217.1" x2="437.9" y2="217.1" stroke="#5b32c0" stroke-width="1.4"/>
<line x1="419.2" y1="227.2" x2="437.9" y2="227.2" stroke="#2a2ac8" stroke-width="1.4"/>
<line x1="419.2" y1="237.1" x2="437.9" y2="237.1" stroke="#d45050" stroke-width="1.4"/>
<text x="439.6" y="219.9" font-family="'Liberation Sans', sans-serif" font-size="8" fill="#262626">YAGG:Ce,Mg (<tspan font-style="italic">g</tspan>=45%) This work</text>
<text x="439.60" y="229.80" font-family="'Liberation Sans', sans-serif" font-size="8" fill="#262626" text-anchor="start" >GAGG:Ce,Mg CRYTUR standard</text>
<text x="439.60" y="239.60" font-family="'Liberation Sans', sans-serif" font-size="8" fill="#262626" text-anchor="start" >YAG:Ce CRYTUR standard</text>
</svg>
</body></html>
